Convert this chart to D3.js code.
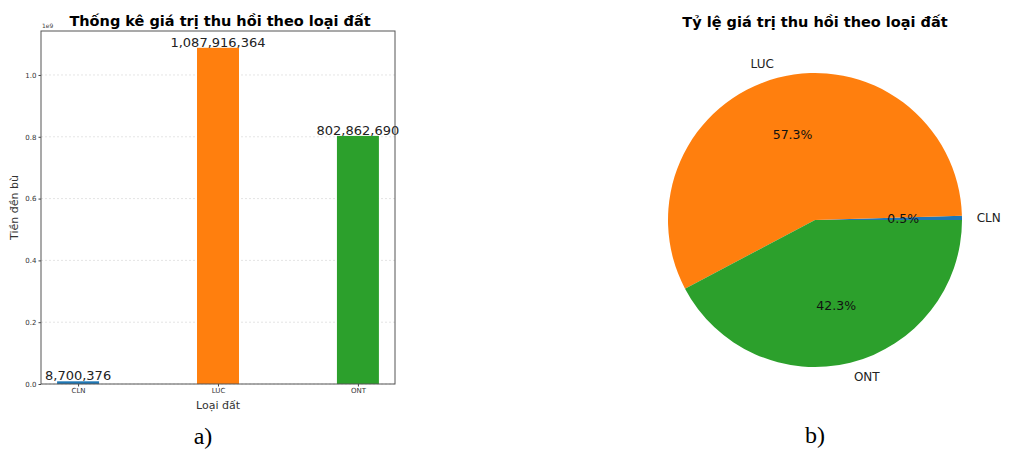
<!DOCTYPE html>
<html>
<head>
<meta charset="utf-8">
<script src="https://cdn.jsdelivr.net/npm/d3@7"></script>
<style>
body { margin: 0; background: #fff; }
text { font-family: "DejaVu Sans", sans-serif; }
</style>
</head>
<body>
<script>
var categories = ["CLN", "LUC", "ONT"],
values = [8700376, 1087916364, 802862690],
colors = ["#1f77b4", "#ff7f0e", "#2ca02c"],
yTicks = [0, 0.2e9, 0.4e9, 0.6e9, 0.8e9, 1.0e9];

var svg = d3.select("body").append("svg")
    .attr("width", 1009)
    .attr("height", 451);

// ---- bar chart (a) ----
var plot = {left: 41, right: 395, top: 31, bottom: 384};

var xScale = d3.scaleLinear()
    .domain([-0.265, 2.265])
    .range([plot.left, plot.right]);

var yScale = d3.scaleLinear()
    .domain([0, d3.max(values) * 1.05])
    .range([plot.bottom, plot.top]);

var barW = xScale(0.3) - xScale(0);

var bars = svg.append("g");

// grid
bars.selectAll("line.grid")
    .data(yTicks)
    .enter().append("line")
    .attr("x1", plot.left).attr("x2", plot.right)
    .attr("y1", function(d) {return yScale(d)})
    .attr("y2", function(d) {return yScale(d)})
    .attr("stroke", "#ddd")
    .attr("stroke-width", 0.8)
    .attr("stroke-dasharray", "2,2");

bars.selectAll("rect")
    .data(values)
    .enter().append("rect")
    .attr("x", function(d, i) {return xScale(i) - barW / 2})
    .attr("y", function(d) {return yScale(d)})
    .attr("width", barW)
    .attr("height", function(d) {return yScale(0) - yScale(d)})
    .attr("fill", function(d, i) {return colors[i]});

bars.selectAll("text.val")
    .data(values)
    .enter().append("text")
    .attr("x", function(d, i) {return xScale(i)})
    .attr("y", function(d) {return yScale(d) - 1})
    .attr("text-anchor", "middle")
    .attr("font-size", 13)
    .attr("fill", "#222")
    .text(function(d) {return d3.format(",")(d)});

var yAxis = bars.append("g")
    .attr("transform", "translate(" + plot.left + ",0)")
    .call(d3.axisLeft(yScale).tickValues(yTicks).tickSize(2.5).tickPadding(2)
        .tickFormat(function(d) {return (d / 1e9).toFixed(1)}));

var xAxis = bars.append("g")
    .attr("transform", "translate(0," + plot.bottom + ")")
    .call(d3.axisBottom(xScale).tickValues([0, 1, 2]).tickSize(2.5).tickPadding(2)
        .tickFormat(function(d) {return categories[d]}));

[yAxis, xAxis].forEach(function(ax) {
    ax.select(".domain").remove();
    ax.selectAll("text").attr("font-size", 7).attr("fill", "#333")
        .style("font-family", "DejaVu Sans");
    ax.selectAll("line").attr("stroke", "#444");
});

bars.append("rect")
    .attr("x", plot.left).attr("y", plot.top)
    .attr("width", plot.right - plot.left)
    .attr("height", plot.bottom - plot.top)
    .attr("fill", "none")
    .attr("stroke", "#555")
    .attr("stroke-width", 1);

bars.append("text")
    .attr("x", plot.left + 1).attr("y", plot.top - 3)
    .attr("font-size", 6).attr("fill", "#444")
    .text("1e9");

bars.append("text")
    .attr("x", (plot.left + plot.right) / 2 + 2).attr("y", 26)
    .attr("text-anchor", "middle")
    .attr("font-size", 14.5).attr("font-weight", "bold")
    .text("Thống kê giá trị thu hồi theo loại đất");

bars.append("text")
    .attr("x", (plot.left + plot.right) / 2).attr("y", 409)
    .attr("text-anchor", "middle")
    .attr("font-size", 11).attr("fill", "#333")
    .text("Loại đất");

bars.append("text")
    .attr("transform", "translate(18," + ((plot.top + plot.bottom) / 2) + ") rotate(-90)")
    .attr("text-anchor", "middle")
    .attr("font-size", 11).attr("fill", "#333")
    .text("Tiền đền bù");

svg.append("text")
    .attr("x", 203).attr("y", 444)
    .attr("text-anchor", "middle")
    .attr("font-size", 24)
    .style("font-family", "Liberation Serif, serif")
    .text("a)");

// ---- pie chart (b) ----
var cx = 815, cy = 220, r = 147;

var pie = d3.pie().sort(null)
    .startAngle(Math.PI / 2)
    .endAngle(Math.PI / 2 - 2 * Math.PI);

var arcs = pie(values);
var arc = d3.arc().innerRadius(0).outerRadius(r);

var pg = svg.append("g").attr("transform", "translate(" + cx + "," + cy + ")");

pg.selectAll("path")
    .data(arcs)
    .enter().append("path")
    .attr("d", arc)
    .attr("fill", function(d, i) {return colors[i]});

function midPos(d, k) {
    var a = (d.startAngle + d.endAngle) / 2;
    return [Math.sin(a) * r * k, -Math.cos(a) * r * k];
}

var total = d3.sum(values);

pg.selectAll("text.pct")
    .data(arcs)
    .enter().append("text")
    .attr("x", function(d) {return midPos(d, 0.6)[0]})
    .attr("y", function(d) {return midPos(d, 0.6)[1]})
    .attr("dy", "0.35em")
    .attr("text-anchor", "middle")
    .attr("font-size", 12.5).attr("fill", "#111")
    .text(function(d) {return (d.value / total * 100).toFixed(1) + "%"});

pg.selectAll("text.lbl")
    .data(arcs)
    .enter().append("text")
    .attr("x", function(d) {return midPos(d, 1.1)[0]})
    .attr("y", function(d) {return midPos(d, 1.1)[1]})
    .attr("dy", "0.35em")
    .attr("text-anchor", function(d) {return midPos(d, 1.1)[0] >= 0 ? "start" : "end"})
    .attr("font-size", 12).attr("fill", "#222")
    .text(function(d, i) {return categories[i]});

svg.append("text")
    .attr("x", cx).attr("y", 27)
    .attr("text-anchor", "middle")
    .attr("font-size", 14.5).attr("font-weight", "bold")
    .text("Tỷ lệ giá trị thu hồi theo loại đất");

svg.append("text")
    .attr("x", cx).attr("y", 443)
    .attr("text-anchor", "middle")
    .attr("font-size", 24)
    .style("font-family", "Liberation Serif, serif")
    .text("b)");
</script>
</body>
</html>
